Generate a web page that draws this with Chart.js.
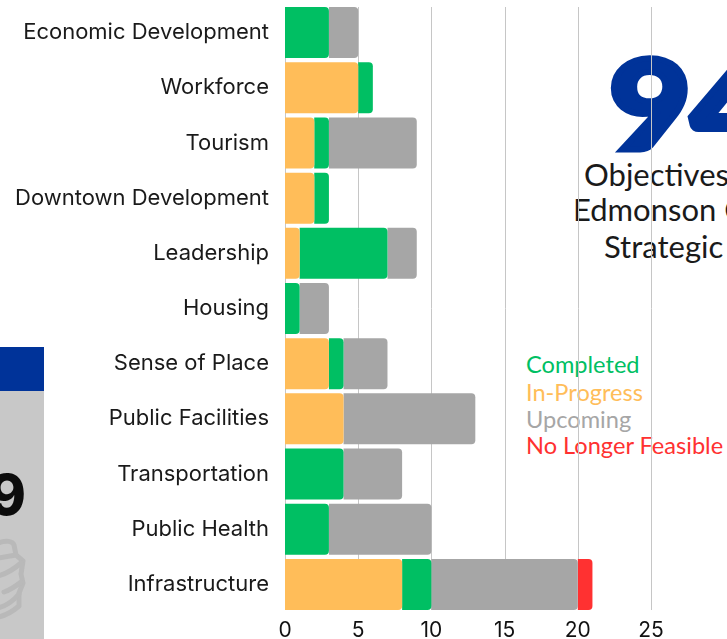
<!DOCTYPE html>
<html>
<head>
<meta charset="utf-8">
<title>Objectives</title>
<script src="https://cdn.jsdelivr.net/npm/chart.js@4"></script>
<style>
    html, body { margin: 0; padding: 0; background: #fff; }
    body { position: relative; width: 727px; height: 639px; overflow: hidden; }
    .txt { position: absolute; white-space: nowrap; font-family: Lato, sans-serif; line-height: 1; }
    #big { left: 609px; top: 40px; font-size: 124px; font-weight: 900; color: #003399; -webkit-text-stroke: 6px #003399; transform: scaleX(1.14); transform-origin: left top; }
    .sub { font-size: 31px; color: #1a1a1a; }
    .leg { left: 526px; font-size: 23.6px; }
    #panelTop { position: absolute; left: 0; top: 347px; width: 44px; height: 44px; background: #003399; }
    #panel { position: absolute; left: 0; top: 391px; width: 44px; height: 248px; background: #c8c8c8; overflow: hidden; }
    #nine { position: absolute; right: 18px; top: 76px; font-family: Inter, sans-serif; font-size: 56px; font-weight: 800; line-height: 1; color: #0c0c0c; }
    #panel svg { position: absolute; left: 0; top: 145px; }
    #wrap { position: absolute; left: 0; top: 0; width: 727px; height: 639px; }
</style>
</head>
<body>
<div id="panelTop"></div>
<div id="panel">
    <div id="nine">9</div>
    <svg width="44" height="90" fill="none" stroke="#b9b9b9" stroke-width="5" stroke-linecap="round" stroke-linejoin="round">
        <path d="M-2 7 C6 4 13 5 14 9 L16 19 L23 25 L21 38 L23 47 L19 57 L19 70 C12 76 4 80 -2 81"/>
        <path d="M-2 22 L16 19"/>
        <path d="M-2 40 C6 38 14 33 21 27"/>
        <path d="M4 56 C10 54 16 50 21 46"/>
        <path d="M-2 72 C6 70 14 64 19 58"/>
    </svg>
</div>

<div class="txt" id="big">94</div>
<div class="txt sub" style="left:584px;top:159px">Objectives</div>
<div class="txt sub" style="left:573px;top:194px">Edmonson County</div>
<div class="txt sub" style="left:604px;top:231px">Strategic</div>

<div class="txt leg" style="top:353px;color:#00bf63">Completed</div>
<div class="txt leg" style="top:381px;color:#ffbd59">In-Progress</div>
<div class="txt leg" style="top:408px;color:#a6a6a6">Upcoming</div>
<div class="txt leg" style="top:434px;color:#ff3131">No Longer Feasible</div>

<div id="wrap"><canvas id="chart" width="727" height="639"></canvas></div>

<script>
const categories = ["Economic Development", "Workforce", "Tourism", "Downtown Development", "Leadership", "Housing", "Sense of Place", "Public Facilities", "Transportation", "Public Health", "Infrastructure"];
const inProgress = [0, 5, 2, 2, 1, 0, 3, 4, 0, 0, 8];
const completed  = [3, 1, 1, 1, 6, 1, 1, 0, 4, 3, 2];
const upcoming   = [2, 0, 6, 0, 2, 2, 3, 9, 4, 7, 10];
const noLonger   = [0, 0, 0, 0, 0, 0, 0, 0, 0, 0, 1];

const corner = { topLeft: 0, bottomLeft: 0, topRight: 4, bottomRight: 4 };

function barSet(label, data, color) {
    return { label: label, data: data, backgroundColor: color, borderRadius: corner, borderSkipped: false, barPercentage: 0.924, categoryPercentage: 1 };
}

// gridlines stop level with the first and last bar, not at the plot edge
const shortGrid = {
    id: "shortGrid",
    beforeDatasetsDraw(chart) {
        const ctx = chart.ctx;
        const x = chart.scales.x;
        ctx.save();
        ctx.strokeStyle = "#c6c6c6";
        ctx.lineWidth = 1;
        x.ticks.forEach(t => {
            const px = Math.round(x.getPixelForValue(t.value)) + 0.5;
            ctx.beginPath();
            ctx.moveTo(px, 7);
            ctx.lineTo(px, 610);
            ctx.stroke();
        });
        ctx.restore();
    }
};

new Chart(document.getElementById("chart"), {
    type: "bar",
    plugins: [shortGrid],
    data: {
        labels: categories,
        datasets: [
            barSet("In-Progress", inProgress, "#ffbd59"),
            barSet("Completed", completed, "#00bf63"),
            barSet("Upcoming", upcoming, "#a6a6a6"),
            barSet("No Longer Feasible", noLonger, "#ff3131")
        ]
    },
    options: {
        indexAxis: "y",
        responsive: false,
        animation: false,
        layout: { padding: { top: 5, right: 76, bottom: 0, left: 0 } },
        plugins: { legend: { display: false }, tooltip: { enabled: false } },
        scales: {
            x: {
                stacked: true,
                min: 0,
                max: 25,
                grid: { display: false, tickLength: 0 },
                border: { display: false },
                afterFit(scale) { scale.height = 27; scale.paddingLeft = 0; scale.paddingRight = 0; },
                ticks: { stepSize: 5, color: "#111", padding: 6, maxRotation: 0, font: { family: "Inter", size: 21 } }
            },
            y: {
                stacked: true,
                grid: { display: false, tickLength: 0 },
                border: { display: false },
                afterFit(scale) { scale.width = 285; scale.paddingTop = 0; scale.paddingBottom = 0; },
                ticks: { color: "#1a1a1a", padding: 16, autoSkip: false, font: { family: "Inter", size: 22 } }
            }
        }
    }
});
</script>
</body>
</html>
